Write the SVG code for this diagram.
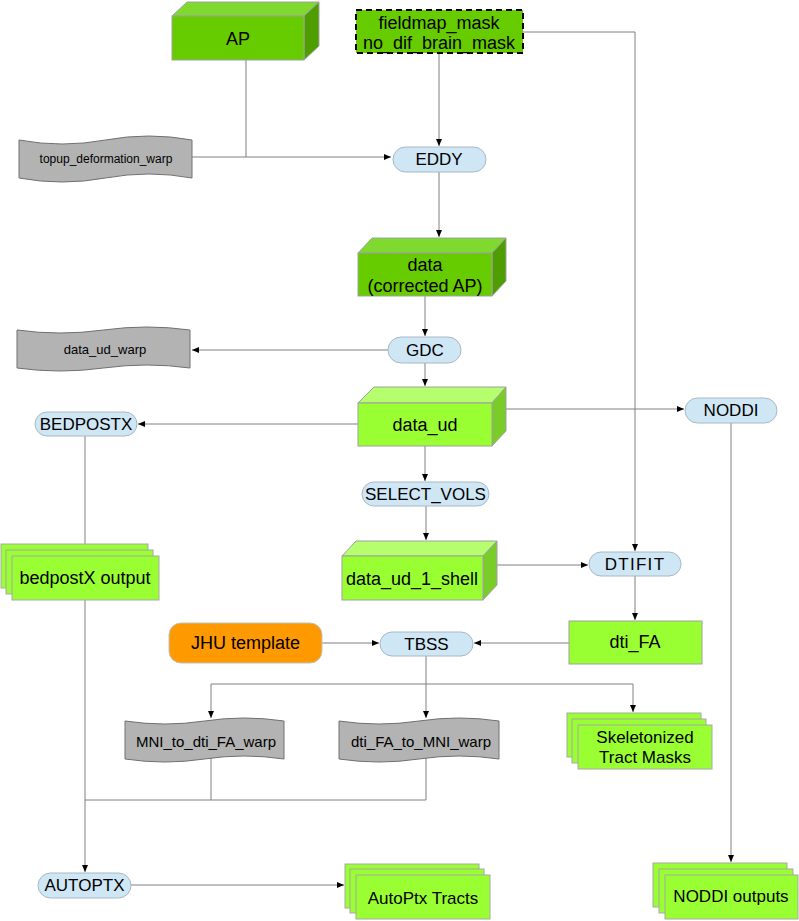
<svg xmlns="http://www.w3.org/2000/svg" width="799" height="921" viewBox="0 0 799 921">
<style>
text{font-family:"Liberation Sans",Arial,sans-serif;fill:#000;text-anchor:middle;dominant-baseline:central}
.ln{fill:none;stroke:#808080;stroke-width:1}
.pill{fill:#cfe6f5;stroke:#a8b8c4;stroke-width:1}
.doc{fill:#b3b3b3;stroke:#707070;stroke-width:1}
.df{fill:#66cc00;stroke:#a0a0a0;stroke-width:1}
.dt{fill:#80d92e;stroke:#a0a0a0;stroke-width:1}
.ds{fill:#4f9e00;stroke:#a0a0a0;stroke-width:1}
.lf{fill:#99ff33;stroke:#a0a0a0;stroke-width:1}
.lt{fill:#b5ff6e;stroke:#a0a0a0;stroke-width:1}
.ls{fill:#7acc29;stroke:#a0a0a0;stroke-width:1}
.st{fill:#99ff33;stroke:#a8a8a8;stroke-width:1}
</style>
<defs>
<marker id="ah" markerWidth="8" markerHeight="6" refX="7" refY="3" orient="auto" markerUnits="userSpaceOnUse">
<path d="M0,0 L7,3 L0,6 Z" fill="#000"/>
</marker>
</defs>

<g id="connectors">
<path class="ln" d="M246,60 V157"/>
<path class="ln" d="M192,157 H391" marker-end="url(#ah)"/>
<path class="ln" d="M439,53 V146" marker-end="url(#ah)"/>
<path class="ln" d="M523,32 H635 V551" marker-end="url(#ah)"/>
<path class="ln" d="M439,172 V237" marker-end="url(#ah)"/>
<path class="ln" d="M425,296 V336" marker-end="url(#ah)"/>
<path class="ln" d="M388,350 H192" marker-end="url(#ah)"/>
<path class="ln" d="M425,363 V386" marker-end="url(#ah)"/>
<path class="ln" d="M358,424 H138" marker-end="url(#ah)"/>
<path class="ln" d="M506,409 H684" marker-end="url(#ah)"/>
<path class="ln" d="M425,446 V481" marker-end="url(#ah)"/>
<path class="ln" d="M426,506 V540" marker-end="url(#ah)"/>
<path class="ln" d="M497,565 H588" marker-end="url(#ah)"/>
<path class="ln" d="M635,576 V620" marker-end="url(#ah)"/>
<path class="ln" d="M569,643 H474" marker-end="url(#ah)"/>
<path class="ln" d="M322,643 H379" marker-end="url(#ah)"/>
<path class="ln" d="M426,656 V684 H211 V718" marker-end="url(#ah)"/>
<path class="ln" d="M426,684 V718" marker-end="url(#ah)"/>
<path class="ln" d="M426,684 H633 V712" marker-end="url(#ah)"/>
<path class="ln" d="M85,436 V544"/>
<path class="ln" d="M85,600 V872" marker-end="url(#ah)"/>
<path class="ln" d="M211,758 V800 H85"/>
<path class="ln" d="M426,758 V800 H211"/>
<path class="ln" d="M131,885 H344" marker-end="url(#ah)"/>
<path class="ln" d="M731,423 V862" marker-end="url(#ah)"/>
</g>

<g id="AP">
<path class="dt" d="M172,16 L187,2 L319,2 L304,16 Z"/>
<path class="ds" d="M304,16 L319,2 L319,46 L304,60 Z"/>
<rect class="df" x="172" y="16" width="132" height="44"/>
<text x="238" y="39" font-size="18">AP</text>
</g>

<g id="fieldmap_mask">
<rect x="356" y="10" width="167" height="43" fill="#66cc00" stroke="#000" stroke-width="2" stroke-dasharray="6,4"/>
<text x="439" y="23" font-size="18">fieldmap_mask</text>
<text x="439" y="43" font-size="18">no_dif_brain_mask</text>
</g>

<g id="topup_deformation_warp">
<path class="doc" d="M19,140 Q62,148 105.5,140 T192,140 L192,178 Q149,170 105.5,178 T19,178 Z"/>
<text x="106" y="159" font-size="12">topup_deformation_warp</text>
</g>

<g id="EDDY">
<rect class="pill" x="393" y="147" width="93" height="25" rx="12.5"/>
<text x="439" y="159.5" font-size="17">EDDY</text>
</g>

<g id="data">
<path class="dt" d="M358,253 L372,238 L506,238 L492,253 Z"/>
<path class="ds" d="M492,253 L506,238 L506,281 L492,296 Z"/>
<rect class="df" x="358" y="253" width="134" height="43"/>
<text x="425" y="265" font-size="18">data</text>
<text x="425" y="286" font-size="18">(corrected AP)</text>
</g>

<g id="GDC">
<rect class="pill" x="388" y="337" width="73" height="26" rx="13"/>
<text x="425" y="350" font-size="17">GDC</text>
</g>

<g id="data_ud_warp">
<path class="doc" d="M17,330 Q60,336 103.5,330 T190,330 L190,368 Q147,362 103.5,368 T17,368 Z"/>
<text x="105" y="349" font-size="13">data_ud_warp</text>
</g>

<g id="data_ud">
<path class="lt" d="M358,403 L374,387 L506,387 L492,403 Z"/>
<path class="ls" d="M492,403 L506,387 L506,431 L492,446 Z"/>
<rect class="lf" x="358" y="403" width="134" height="43"/>
<text x="425" y="425" font-size="18">data_ud</text>
</g>

<g id="BEDPOSTX">
<rect class="pill" x="35" y="412" width="102" height="24" rx="12"/>
<text x="86" y="424" font-size="17">BEDPOSTX</text>
</g>

<g id="NODDI">
<rect class="pill" x="685" y="398" width="92" height="25" rx="12.5"/>
<text x="731" y="410.5" font-size="17">NODDI</text>
</g>

<g id="SELECT_VOLS">
<rect class="pill" x="362" y="482" width="127" height="24" rx="12"/>
<text x="425.5" y="494" font-size="17">SELECT_VOLS</text>
</g>

<g id="bedpostX_output">
<rect class="st" x="1" y="544" width="147" height="44"/>
<rect class="st" x="6" y="550" width="147" height="44"/>
<rect class="st" x="12" y="556" width="147" height="44"/>
<text x="85" y="578" font-size="18">bedpostX output</text>
</g>

<g id="data_ud_1_shell">
<path class="lt" d="M342,556 L356,541 L497,541 L483,556 Z"/>
<path class="ls" d="M483,556 L497,541 L497,585 L483,600 Z"/>
<rect class="lf" x="342" y="556" width="141" height="44"/>
<text x="412" y="579" font-size="18">data_ud_1_shell</text>
</g>

<g id="DTIFIT">
<rect class="pill" x="589" y="552" width="92" height="24" rx="12"/>
<text x="635" y="564" font-size="17" letter-spacing="1.3">DTIFIT</text>
</g>

<g id="JHU_template">
<rect x="169" y="623" width="153" height="40" rx="12" fill="#ff9900" stroke="#c0c0c0" stroke-width="1"/>
<text x="245.5" y="643" font-size="18">JHU template</text>
</g>

<g id="TBSS">
<rect class="pill" x="380" y="632" width="93" height="24" rx="12"/>
<text x="426.5" y="644" font-size="17">TBSS</text>
</g>

<g id="dti_FA">
<rect class="lf" x="569" y="621" width="133" height="43"/>
<text x="635" y="642" font-size="18">dti_FA</text>
</g>

<g id="MNI_to_dti_FA_warp">
<path class="doc" d="M125,721 Q165,727 204.5,721 T284,721 L284,759 Q244,753 204.5,759 T125,759 Z"/>
<text x="206" y="741" font-size="15">MNI_to_dti_FA_warp</text>
</g>

<g id="dti_FA_to_MNI_warp">
<path class="doc" d="M339,721 Q379,727 419,721 T499,721 L499,759 Q459,753 419,759 T339,759 Z"/>
<text x="421" y="741" font-size="15">dti_FA_to_MNI_warp</text>
</g>

<g id="Skeletonized_Tract_Masks">
<rect class="st" x="567" y="713" width="134" height="44"/>
<rect class="st" x="572" y="719" width="134" height="44"/>
<rect class="st" x="578" y="725" width="134" height="44"/>
<text x="645" y="737" font-size="17">Skeletonized</text>
<text x="645" y="757" font-size="17">Tract Masks</text>
</g>

<g id="AUTOPTX">
<rect class="pill" x="38" y="873" width="93" height="25" rx="12.5"/>
<text x="84.5" y="885.5" font-size="17">AUTOPTX</text>
</g>

<g id="AutoPtx_Tracts">
<rect class="st" x="345" y="864" width="134" height="44"/>
<rect class="st" x="350" y="869" width="134" height="44"/>
<rect class="st" x="356" y="875" width="134" height="44"/>
<text x="423" y="898" font-size="17">AutoPtx Tracts</text>
</g>

<g id="NODDI_outputs">
<rect class="st" x="653" y="863" width="134" height="44"/>
<rect class="st" x="659" y="869" width="134" height="44"/>
<rect class="st" x="665" y="875" width="133" height="44"/>
<text x="731" y="896" font-size="17">NODDI outputs</text>
</g>
</svg>
